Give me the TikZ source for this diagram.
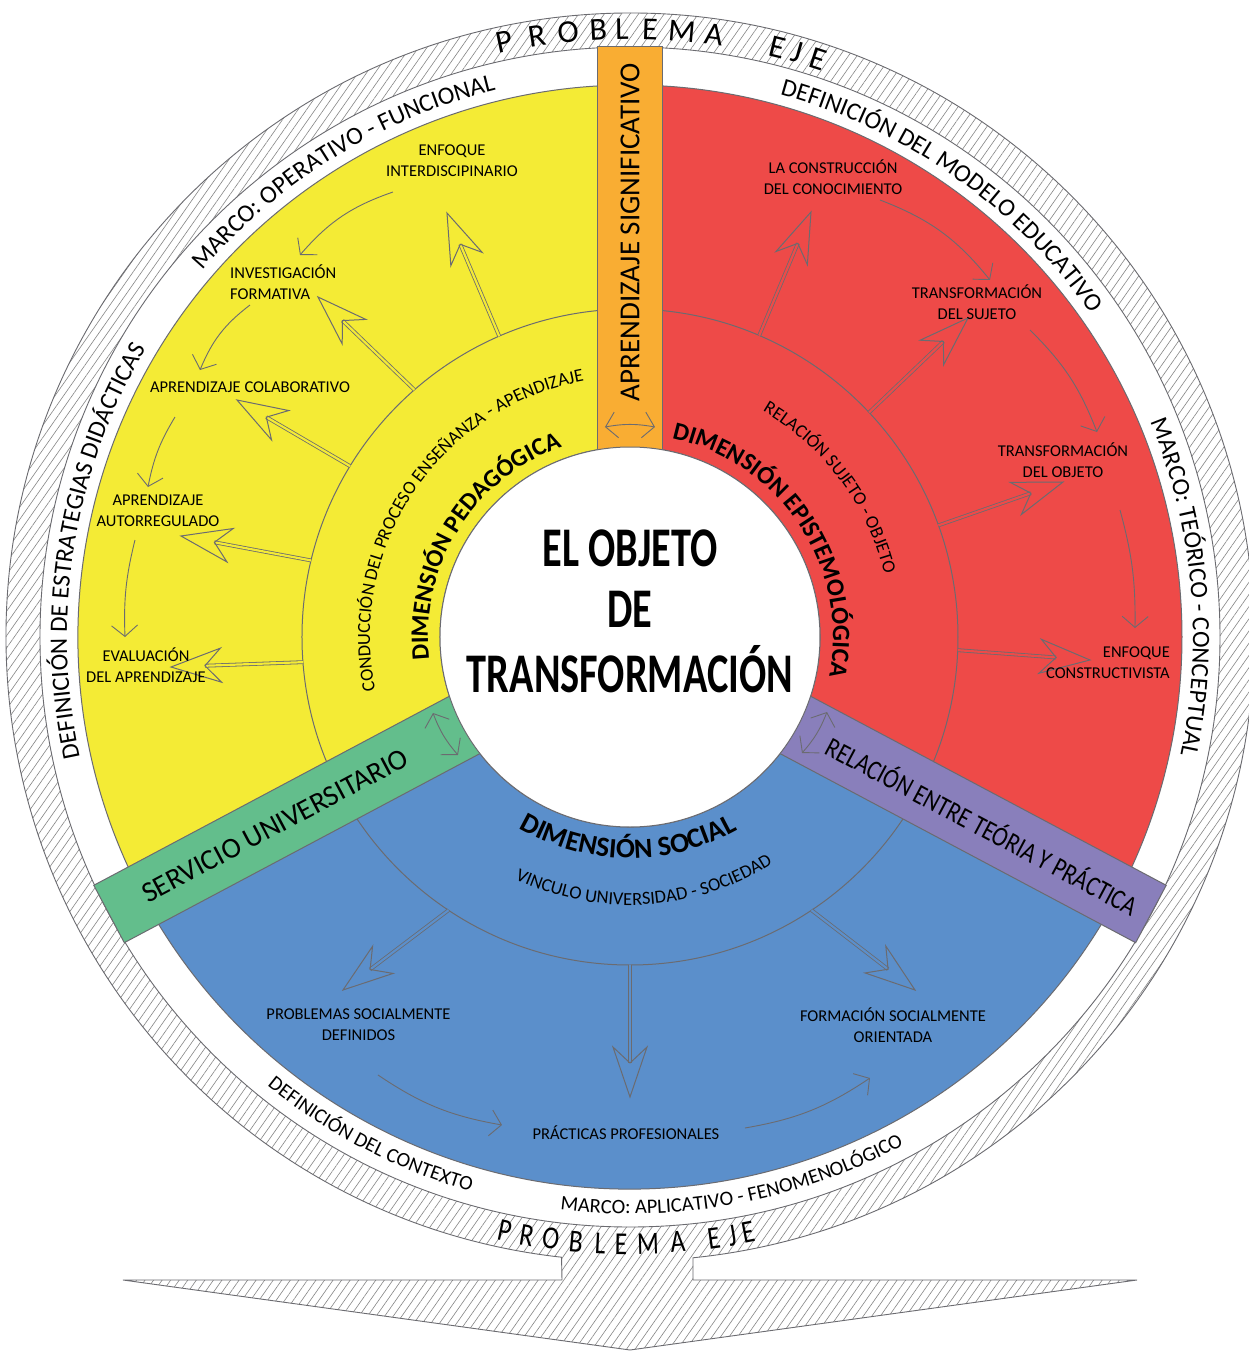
\documentclass[tikz,border=0pt]{standalone}
\usepackage{fontspec}
\setmainfont{Carlito}
\usetikzlibrary{calc,arrows.meta,decorations.text,patterns.meta}

\definecolor{secyellow}{HTML}{F4EB35}
\definecolor{secred}{HTML}{EE4A48}
\definecolor{secblue}{HTML}{5B8FCB}
\definecolor{bandorange}{HTML}{F9AD33}
\definecolor{bandgreen}{HTML}{63BE8C}
\definecolor{bandpurple}{HTML}{897FBB}
\definecolor{linegray}{HTML}{6B6B70}
\definecolor{hatchgray}{HTML}{858585}

\newcommand\lblsize{\fontsize{16.5}{21}\selectfont}
\newcommand\ringsize{\fontsize{25}{30}\selectfont}
\newcommand\ringlow{\fontsize{20.5}{25}\selectfont}
\newcommand\dimsize{\bfseries\fontsize{25}{30}\selectfont}
\newcommand\dimlarge{\bfseries\fontsize{28}{33}\selectfont}
\newcommand\arcsmall{\fontsize{18.5}{22}\selectfont}
\newcommand\bandsize{\fontsize{29}{34}\selectfont}
\newcommand\probsize{\fontsize{32}{38}\selectfont}

\tikzset{
  ringline/.style={draw=linegray, line width=1pt},
  sector/.style={ringline, fill=#1},
  band/.style={ringline, fill=#1},
  hatch/.style={draw=linegray, line width=0.9pt, pattern={Lines[angle=55,distance=7pt,line width=0.6pt]}, pattern color=hatchgray},
  shaft/.style={draw=linegray, line width=0.8pt, double=#1, double distance=2.2pt},
  head/.style={draw=linegray, line width=1pt},
  flow/.style={draw=linegray, line width=0.9pt, -{Straight Barb[length=11pt,width=26pt]}},
  twoway/.style={draw=linegray, line width=0.9pt, {Straight Barb[length=11pt,width=26pt]}-{Straight Barb[length=11pt,width=26pt]}},
  itemtxt/.style={align=center, font=\lblsize, inner sep=0pt},
  bandtxt/.style={font=\bandsize, inner sep=0pt},
  probtxt/.style={font=\probsize, inner sep=0pt},
  centertxt/.style={font=\bfseries\fontsize{56}{61}\selectfont, inner sep=0pt},
  arctext/.style={decorate, decoration={text along path, text align=center, text={#1}}}
}

% hollow block arrow: colour, base, tip
\newcommand\blockarrow[3]{%
  \draw[shaft=#1] (#2) -- ($(#3)!34pt!(#2)$);
  \draw[head] ($(#3)!34pt!(#2)$) -- ($(#3)!52.8pt!18.8:(#2)$) -- (#3)
    -- ($(#3)!52.8pt!-18.8:(#2)$) -- cycle;
}

\begin{document}
\begin{tikzpicture}[x=1pt, y=1pt]
  \useasboundingbox (-630,-716) rectangle (619,637);
  \fill[white] (-630,-716) rectangle (619,637);

  % anillo y flecha del problema eje
  \draw[hatch, even odd rule] (-84.2:624) arc[start angle=-84.2, end angle=263.7, radius=624]
    -- (-68,-643) -- (-507,-643) -- (0,-713) -- (507,-643) -- (63,-643) -- cycle
    (0,0) circle[radius=590];

  % sectores
  \draw[sector=secyellow] (90:190) arc[start angle=90, end angle=208, radius=190]
    -- (208:552) arc[start angle=208, end angle=90, radius=552] -- cycle;
  \draw[sector=secred] (-28:190) arc[start angle=-28, end angle=90, radius=190]
    -- (90:552) arc[start angle=90, end angle=-28, radius=552] -- cycle;
  \draw[sector=secblue] (208:190) arc[start angle=208, end angle=332, radius=190]
    -- (332:552) arc[start angle=332, end angle=208, radius=552] -- cycle;
  \draw[ringline] (0,0) circle[radius=328];

  % bandas
  \draw[band=bandorange, rotate=90] (150,-32.5) rectangle (590,32.5);
  \draw[band=bandgreen, rotate=208] (150,-32.5) rectangle (590,32.5);
  \draw[band=bandpurple, rotate=332] (150,-32.5) rectangle (590,32.5);
  \draw[ringline, fill=white] (0,0) circle[radius=190];

  % flechas radiales
  \coordinate (y1b) at (113.5:328); \coordinate (y1t) at (-183,424);
  \coordinate (y2b) at (131.1:328); \coordinate (y2t) at (-312,340);
  \coordinate (y3b) at (148.6:328); \coordinate (y3t) at (-393,237);
  \coordinate (y4b) at (166.5:328); \coordinate (y4t) at (-449,101);
  \coordinate (y5b) at (184.4:328); \coordinate (y5t) at (-459,-30);
  \coordinate (r1b) at (66.8:328);  \coordinate (r1t) at (181,425);
  \coordinate (r2b) at (43.2:328);  \coordinate (r2t) at (338,319);
  \coordinate (r3b) at (19.9:328);  \coordinate (r3t) at (433,155);
  \coordinate (r4b) at (-2.3:328);  \coordinate (r4t) at (460,-23);
  \coordinate (b1b) at (-123.6:328); \coordinate (b1t) at (-287,-353);
  \coordinate (b2b) at (-90:328);   \coordinate (b2t) at (0,-460);
  \coordinate (b3b) at (-56.4:328); \coordinate (b3t) at (285,-353);
  \blockarrow{secyellow}{y1b}{y1t}
  \blockarrow{secyellow}{y2b}{y2t}
  \blockarrow{secyellow}{y3b}{y3t}
  \blockarrow{secyellow}{y4b}{y4t}
  \blockarrow{secyellow}{y5b}{y5t}
  \blockarrow{secred}{r1b}{r1t}
  \blockarrow{secred}{r2b}{r2t}
  \blockarrow{secred}{r3b}{r3t}
  \blockarrow{secred}{r4b}{r4t}
  \blockarrow{secblue}{b1b}{b1t}
  \blockarrow{secblue}{b2b}{b2t}
  \blockarrow{secblue}{b3b}{b3t}

  % etiquetas de cada dimension
  \node[itemtxt] (enfoque) at (-178,476) {ENFOQUE\\INTERDISCIPINARIO};
  \node[itemtxt, align=left, anchor=west] (investigacion) at (-400,354.5) {INVESTIGACIÓN\\FORMATIVA};
  \node[itemtxt] (colaborativo) at (-380,250) {APRENDIZAJE COLABORATIVO};
  \node[itemtxt] (autorregulado) at (-472,126.5) {APRENDIZAJE\\AUTORREGULADO};
  \node[itemtxt] (evaluacion) at (-484,-28.5) {EVALUACIÓN\\DEL APRENDIZAJE};
  \node[itemtxt] (construccion) at (203,459.5) {LA CONSTRUCCIÓN\\DEL CONOCIMIENTO};
  \node[itemtxt] (sujeto) at (347,334.5) {TRANSFORMACIÓN\\DEL SUJETO};
  \node[itemtxt] (objeto) at (433,176.5) {TRANSFORMACIÓN\\DEL OBJETO};
  \node[itemtxt, align=right, anchor=east] (constructivista) at (540,-25.5) {ENFOQUE\\CONSTRUCTIVISTA};
  \node[itemtxt] (problemas) at (-271.5,-387.5) {PROBLEMAS SOCIALMENTE\\DEFINIDOS};
  \node[itemtxt] (practicas) at (-4,-496) {PRÁCTICAS PROFESIONALES};
  \node[itemtxt] (formacion) at (263,-388.5) {FORMACIÓN SOCIALMENTE\\ORIENTADA};

  % flechas de secuencia
  \coordinate (fy1a) at (-237,445); \coordinate (fy1b) at (-330,382);
  \coordinate (fy2a) at (-380,332); \coordinate (fy2b) at (-430,267);
  \coordinate (fy3a) at (-455,220); \coordinate (fy3b) at (-482,150);
  \coordinate (fy4a) at (-495,97);  \coordinate (fy4b) at (-505,0);
  \coordinate (fr1a) at (250,437);  \coordinate (fr1b) at (360,357);
  \coordinate (fr2a) at (400,307);  \coordinate (fr2b) at (467,205);
  \coordinate (fr3a) at (490,127);  \coordinate (fr3b) at (505,9);
  \coordinate (fb1a) at (-252,-438); \coordinate (fb1b) at (-128,-488);
  \coordinate (fb2a) at (115,-491); \coordinate (fb2b) at (240,-441);
  \draw[flow] (fy1a) to[bend right=15] (fy1b);
  \draw[flow] (fy2a) to[bend right=15] (fy2b);
  \draw[flow] (fy3a) to[bend right=10] (fy3b);
  \draw[flow] (fy4a) to[bend right=8] (fy4b);
  \draw[flow] (fr1a) to[bend left=15] (fr1b);
  \draw[flow] (fr2a) to[bend left=12] (fr2b);
  \draw[flow] (fr3a) to[bend left=8] (fr3b);
  \draw[flow] (fb1a) to[bend right=12] (fb1b);
  \draw[flow] (fb2a) to[bend right=12] (fb2b);

  % flechas dobles en las bandas
  \coordinate (oa) at (-25,210); \coordinate (ob) at (25,210);
  \coordinate (ga) at (-197,-76); \coordinate (gb) at (-172,-118);
  \coordinate (pa) at (197,-75); \coordinate (pb) at (172,-116);
  \draw[twoway] (oa) to[bend left=10] (ob);
  \draw[twoway] (ga) to[bend right=10] (gb);
  \draw[twoway] (pa) to[bend left=10] (pb);

  % textos de las bandas
  \node[bandtxt, rotate=90] (significativo) at (90:405) {APRENDIZAJE SIGNIFICATIVO};
  \node[bandtxt, rotate=28] (servicio) at (208:402) {SERVICIO UNIVERSITARIO};
  \node[bandtxt, font=\fontsize{28}{34}\selectfont, rotate=-28] (relacion) at (-28:400)
    {\scalebox{0.82}[1]{RELACIÓN ENTRE TEÓRIA Y PRÁCTICA}};

  % centro
  \node[centertxt] (centro) at (0,20)
    {\scalebox{0.72}[1]{\begin{tabular}{@{}c@{}}EL OBJETO\\DE\\TRANSFORMACIÓN\end{tabular}}};

  % textos curvos interiores
  \path[arctext={|\dimsize|DIMENSIÓN PEDAGÓGICA}] (228:202) arc[start angle=228, end angle=68, radius=202];
  \path[arctext={|\arcsmall|CONDUCCIÓN DEL PROCESO ENSEÑANZA - APENDIZAJE}] (226:260) arc[start angle=226, end angle=66, radius=260];
  \path[arctext={|\dimsize|DIMENSIÓN EPISTEMOLÓGICA}] (113.5:203) arc[start angle=113.5, end angle=-46.5, radius=203];
  \path[arctext={|\arcsmall|RELACIÓN SUJETO - OBJETO}] (96.7:262) arc[start angle=96.7, end angle=-23.3, radius=262];
  \path[arctext={|\dimlarge|DIMENSIÓN SOCIAL}] (-160.5:221) arc[start angle=-160.5, end angle=-20.5, radius=221];
  \path[arctext={|\arcsmall|VINCULO UNIVERSIDAD - SOCIEDAD}] (-156.6:268) arc[start angle=-156.6, end angle=-16.6, radius=268];

  % textos curvos del anillo exterior
  \path[arctext={|\ringsize|MARCO: OPERATIVO - FUNCIONAL}] (171.6:563) arc[start angle=171.6, end angle=71.6, radius=563];
  \path[arctext={|\ringsize|DEFINICIÓN DE ESTRATEGIAS DIDÁCTICAS}] (230.8:563) arc[start angle=230.8, end angle=110.8, radius=563];
  \path[arctext={|\ringsize|DEFINICIÓN DEL MODELO EDUCATIVO}] (104.8:563) arc[start angle=104.8, end angle=4.8, radius=563];
  \path[arctext={|\ringsize|MARCO: TEÓRICO - CONCEPTUAL}] (55.2:563) arc[start angle=55.2, end angle=-44.8, radius=563];
  \path[arctext={|\ringlow|DEFINICIÓN DEL CONTEXTO}] (192.5:577) arc[start angle=192.5, end angle=292.5, radius=577];
  \path[arctext={|\ringlow|MARCO: APLICATIVO - FENOMENOLÓGICO}] (230.7:577) arc[start angle=230.7, end angle=330.7, radius=577];

  % problema eje
  \foreach \a/\l [count=\i] in {101.9/P, 98.8/R, 95.85/O, 93.0/B, 90.75/L, 88.1/E, 85.1/M, 82.06/A, 76.0/E, 74.06/J, 72.0/E}
    \node[probtxt, rotate=\a-90] (arriba\i) at (\a:608) {\l};
  \foreach \a/\l [count=\i] in {-101.9/P, -99.8/R, -97.5/O, -95.1/B, -92.8/L, -90.85/E, -88.3/M, -85.5/A, -82.05/E, -80.3/J, -78.8/E}
    \node[probtxt, rotate=\a+90] (abajo\i) at (\a:607) {\scalebox{0.8}[1]{\l}};
\end{tikzpicture}
\end{document}
